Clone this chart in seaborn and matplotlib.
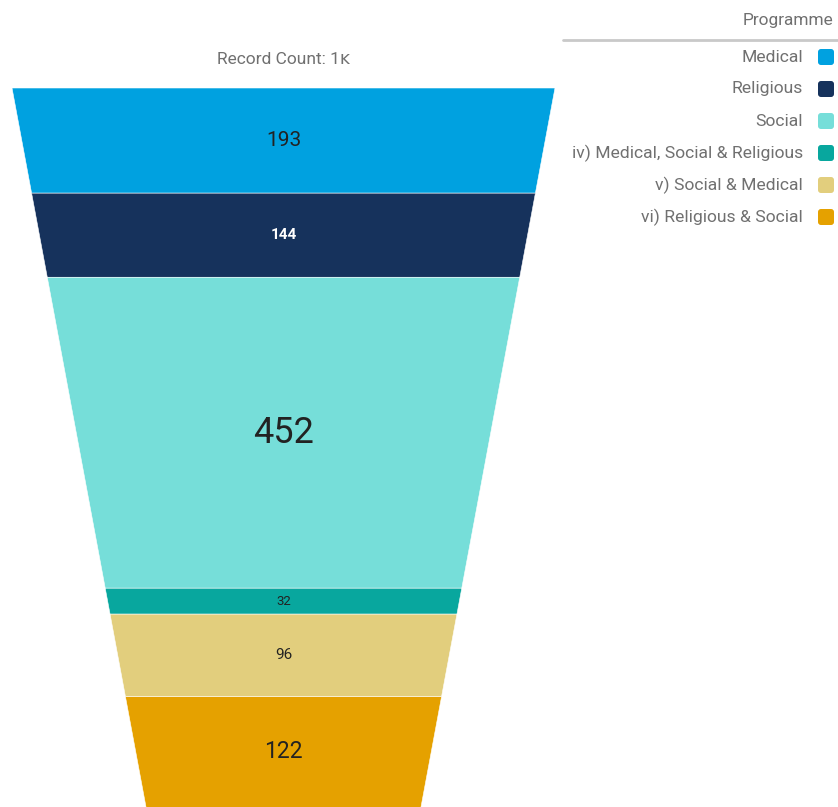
import numpy as np
import seaborn as sns
import matplotlib.pyplot as plt
from matplotlib.patches import FancyBboxPatch, Polygon

# Funnel data
programmes = ['Medical', 'Religious', 'Social', 'iv) Medical, Social & Religious',
              'v) Social & Medical', 'vi) Religious & Social']
counts = [193, 144, 452, 32, 96, 122]
colors = ['#00a1e0', '#16325c', '#76ded9', '#08a79e', '#e2ce7d', '#e5a100']

sns.set_theme(style='white')
plt.rcParams['font.family'] = ['Roboto', 'DejaVu Sans']

fig = plt.figure(figsize=(8.38, 8.07), dpi=100)
ax = fig.add_axes([0, 0, 1, 1])
ax.set_xlim(0, 838)
ax.set_ylim(807, 0)
ax.axis('off')

# funnel frame (pixels) - bottom runs a little past the image edge
top, bottom = 88, 815
cx = 283.5
w_top, w_bot = 543, 272
k = (w_top - w_bot) / (bottom - top)
total_area = (w_top + w_bot) / 2 * (bottom - top)

def width_at(y):
    return w_top - k * (y - top)

def y_for_area(a):
    # solve w_top*t - k*t^2/2 = a
    t = (w_top - np.sqrt(w_top ** 2 - 2 * k * a)) / k
    return top + t

cum = np.cumsum([0] + counts) / sum(counts) * total_area
bounds = [y_for_area(a) for a in cum]

label_sizes = [15, 11, 26, 9.5, 11, 16.5]
label_colors = ['#222222', 'white', '#222222', '#222222', '#222222', '#222222']
label_weights = ['normal', 'bold', 'normal', 'normal', 'normal', 'normal']

for i, n in enumerate(counts):
    y0, y1 = bounds[i], bounds[i + 1]
    w0, w1 = width_at(y0), width_at(y1)
    poly = Polygon([(cx - w0 / 2, y0), (cx + w0 / 2, y0), (cx + w1 / 2, y1), (cx - w1 / 2, y1)],
                   closed=True, facecolor=colors[i], edgecolor='white', linewidth=0.4)
    ax.add_patch(poly)
    ym = (y0 + min(y1, 807)) / 2 if i == len(counts) - 1 else (y0 + y1) / 2
    ax.text(cx, ym, str(n), ha='center', va='center',
            fontsize=label_sizes[i], color=label_colors[i], fontweight=label_weights[i])

ax.text(cx, 60, 'Record Count: 1\u1d0b', ha='center', va='center', fontsize=12.5, color='#707070')

# legend
ax.text(833, 21, 'Programme', ha='right', va='center', fontsize=12.4, color='#707070')
ax.plot([563, 838], [40, 40], color='#c9c9c9', linewidth=2)
for i, name in enumerate(programmes):
    y = 57 + 32 * i
    ax.text(803, y, name, ha='right', va='center', fontsize=12.6, color='#707070')
    ax.add_patch(FancyBboxPatch((818, y - 8), 16, 16, boxstyle='round,pad=0,rounding_size=3',
                                facecolor=colors[i], edgecolor='none'))

fig.savefig('out.png', dpi=100)
